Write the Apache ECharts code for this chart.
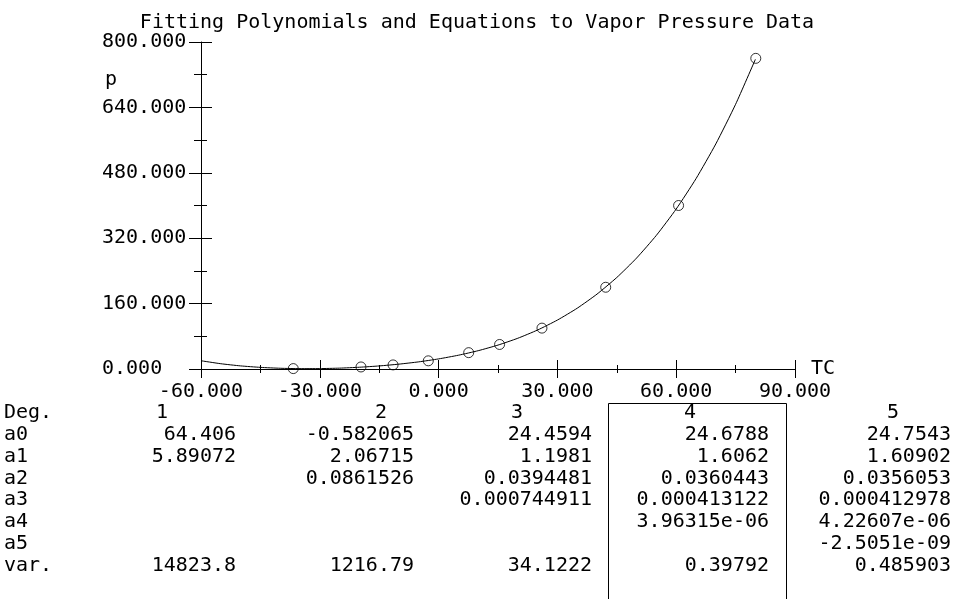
<!DOCTYPE html>
<html>
<head>
<meta charset="utf-8">
<script src="https://cdn.jsdelivr.net/npm/echarts@6/dist/echarts.min.js"></script>
<style>
html,body{margin:0;padding:0;background:#fff;}
#chart{width:954px;height:599px;}
</style>
</head>
<body>
<div id="chart"></div>
<script>
// ---- data ----
const chartTitle = 'Fitting Polynomials and Equations to Vapor Pressure Data';
const xName = 'TC';
const yName = 'p';
// measured points
const tempC = [-36.7, -19.6, -11.5, -2.6, 7.6, 15.4, 26.1, 42.2, 60.6, 80.1];
const pressure = [1, 5, 10, 20, 40, 60, 100, 200, 400, 760];
// fitted curve
const fitT = [-60, -55, -50, -45, -40, -35, -30, -25, -20, -15, -10, -5, 0, 5, 10, 15, 20, 25, 30, 35, 40, 45, 50, 55, 60, 65, 70, 75, 80];
const fitP = [20.2, 12.9, 7.6, 4.0, 1.8, 0.9, 1.0, 2.1, 4.3, 7.5, 11.9, 17.5, 24.7, 33.7, 44.8, 58.5, 75.2, 95.4, 119.7, 148.7, 183.2, 223.9, 271.5, 327.1, 391.4, 465.6, 550.6, 647.6, 757.7];
// table
const rowLabels = ['Deg.', 'a0', 'a1', 'a2', 'a3', 'a4', 'a5', 'var.'];
const degHeaders = ['1', '2', '3', '4', '5'];
const colDeg1 = ['64.406', '5.89072', '', '', '', '', '14823.8'];
const colDeg2 = ['-0.582065', '2.06715', '0.0861526', '', '', '', '1216.79'];
const colDeg3 = ['24.4594', '1.1981', '0.0394481', '0.000744911', '', '', '34.1222'];
const colDeg4 = ['24.6788', '1.6062', '0.0360443', '0.000413122', '3.96315e-06', '', '0.39792'];
const colDeg5 = ['24.7543', '1.60902', '0.0356053', '0.000412978', '4.22607e-06', '-2.5051e-09', '0.485903'];

// ---- layout ----
const FONT = "'DejaVu Sans Mono', 'Liberation Mono', monospace";
const FS = 20;
const INK = '#000';
const chart = echarts.init(document.getElementById('chart'), null, {renderer: 'canvas'});

const colRight = [236, 414, 592, 769, 951];
const headerLeft = [156, 375, 511, 684, 887];
const rowY0 = 413, rowStep = 21.8;
const cols = [colDeg1, colDeg2, colDeg3, colDeg4, colDeg5];

const graphics = [];
graphics.push({type: 'text', left: 105, top: 70, style: {text: yName, font: FS + 'px ' + FONT, fill: INK}});
rowLabels.forEach((r, i) => {
  graphics.push({type: 'text', x: 4, y: rowY0 + i * rowStep, style: {text: r, font: FS + 'px ' + FONT, fill: INK, textAlign: 'left', textVerticalAlign: 'middle'}});
});
degHeaders.forEach((h, c) => {
  graphics.push({type: 'text', x: headerLeft[c], y: rowY0, style: {text: h, font: FS + 'px ' + FONT, fill: INK, textAlign: 'left', textVerticalAlign: 'middle'}});
});
cols.forEach((col, c) => {
  col.forEach((v, i) => {
    if (!v) return;
    graphics.push({type: 'text', x: colRight[c], y: rowY0 + (i + 1) * rowStep, style: {text: v, font: FS + 'px ' + FONT, fill: INK, textAlign: 'right', textVerticalAlign: 'middle'}});
  });
});
// highlight box around degree 4 column
graphics.push({type: 'polyline', shape: {points: [[608.5, 603], [608.5, 403.5], [786.5, 403.5], [786.5, 603]]}, style: {stroke: INK, lineWidth: 1, fill: null}});

const tickFmt = v => v.toFixed(3);
const baseX = {
  type: 'value', min: -60, max: 90, interval: 30, gridIndex: 0, position: 'bottom',
  splitLine: {show: false}
};
const baseY = {
  type: 'value', min: 0, max: 800, interval: 160, gridIndex: 0, position: 'left',
  splitLine: {show: false}
};

const option = {
  backgroundColor: '#fff',
  animation: false,
  title: {
    text: chartTitle, left: 'center', top: 8,
    textStyle: {fontFamily: FONT, fontSize: FS, fontWeight: 'normal', color: INK}
  },
  grid: {left: 201, right: 159, top: 42, bottom: 230, containLabel: false},
  xAxis: [
    Object.assign({}, baseX, {
      name: xName, nameLocation: 'end', nameGap: 16,
      nameTextStyle: {fontFamily: FONT, fontSize: FS, color: INK, verticalAlign: 'middle'},
      axisLine: {show: true, onZero: false, lineStyle: {color: INK, width: 1}},
      axisTick: {show: true, inside: false, length: 9, lineStyle: {color: INK, width: 1}},
      minorTick: {show: true, splitNumber: 2, length: 4, lineStyle: {color: INK, width: 1}},
      axisLabel: {show: true, formatter: tickFmt, margin: 13, fontFamily: FONT, fontSize: FS, color: INK}
    }),
    Object.assign({}, baseX, {
      axisLine: {show: false, onZero: false},
      axisTick: {show: true, inside: true, length: 9, lineStyle: {color: INK, width: 1}},
      minorTick: {show: true, splitNumber: 2, length: 4, lineStyle: {color: INK, width: 1}},
      axisLabel: {show: false}
    })
  ],
  yAxis: [
    Object.assign({}, baseY, {
      axisLine: {show: true, onZero: false, lineStyle: {color: INK, width: 1}},
      axisTick: {show: true, inside: false, length: 12, lineStyle: {color: INK, width: 1}},
      minorTick: {show: true, splitNumber: 2, length: 7, lineStyle: {color: INK, width: 1}},
      axisLabel: {show: true, formatter: tickFmt, align: 'left', margin: 99, fontFamily: FONT, fontSize: FS, color: INK}
    }),
    Object.assign({}, baseY, {
      axisLine: {show: false, onZero: false},
      axisTick: {show: true, inside: true, length: 11, lineStyle: {color: INK, width: 1}},
      minorTick: {show: true, splitNumber: 2, length: 6, lineStyle: {color: INK, width: 1}},
      axisLabel: {show: false}
    })
  ],
  series: [
    {
      name: 'data', type: 'scatter', xAxisIndex: 0, yAxisIndex: 0, z: 2,
      symbol: 'circle', symbolSize: 10,
      itemStyle: {color: 'rgba(255,255,255,0)', borderColor: INK, borderWidth: 1},
      data: tempC.map((t, i) => [t, pressure[i]])
    },
    {
      name: 'fit', type: 'line', xAxisIndex: 0, yAxisIndex: 0, z: 3,
      showSymbol: false, smooth: 0.2,
      lineStyle: {color: INK, width: 1},
      data: fitT.map((t, i) => [t, fitP[i]])
    }
  ],
  graphic: graphics
};
chart.setOption(option);
</script>
</body>
</html>
